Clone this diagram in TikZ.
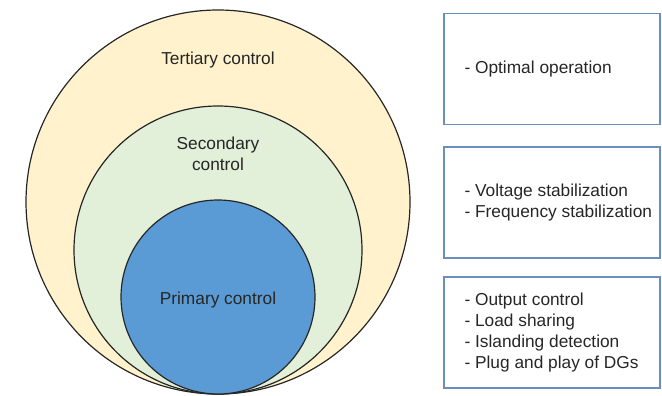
\documentclass[tikz,border=0pt]{standalone}
\usepackage{fontspec}
\setmainfont{Liberation Sans}
\usetikzlibrary{calc}

\definecolor{tertfill}{HTML}{FFF2CC}
\definecolor{secfill}{HTML}{E2EFD9}
\definecolor{primfill}{HTML}{5B9BD5}
\definecolor{boxline}{HTML}{6C8EBF}
\definecolor{txt}{HTML}{262626}

\tikzset{
  ring/.style={draw=black!85, line width=1.2pt},
  ringlabel/.style={text=txt, align=center, font=\fontsize{17.3}{21}\selectfont},
  listbox/.style={draw=boxline, line width=1.3pt, minimum width=216pt, minimum height=111pt, inner sep=0pt},
  listtext/.style={text=txt, align=left, anchor=west, inner sep=0pt, font=\fontsize{17.3}{21}\selectfont}
}

\begin{document}
\begin{tikzpicture}[x=1pt,y=-1pt]
    \useasboundingbox (0,0) rectangle (662,396);
    \draw[ring, fill=tertfill] (218,202) circle (192);
    \draw[ring, fill=secfill] (218,250) circle (144);
    \draw[ring, fill=primfill] (218,297) circle (97);
    \node[ringlabel] (tert) at (218,60) {Tertiary control};
    \node[ringlabel] (sec) at (218,154) {Secondary\\control};
    \node[ringlabel] (prim) at (218,300) {Primary control};

    \node[listbox] (b1) at (552,69) {};
    \node[listbox] (b2) at (552,202.5) {};
    \node[listbox] (b3) at (552,332.5) {};
    \node[listtext] (t1) at ($(b1.west)+(21,0)$) {- Optimal operation};
    \node[listtext] (t2) at ($(b2.west)+(21,0)$) {- Voltage stabilization\\- Frequency stabilization};
    \node[listtext] (t3) at ($(b3.west)+(21,0)$) {- Output control\\- Load sharing\\- Islanding detection\\- Plug and play of DGs};
\end{tikzpicture}
\end{document}
